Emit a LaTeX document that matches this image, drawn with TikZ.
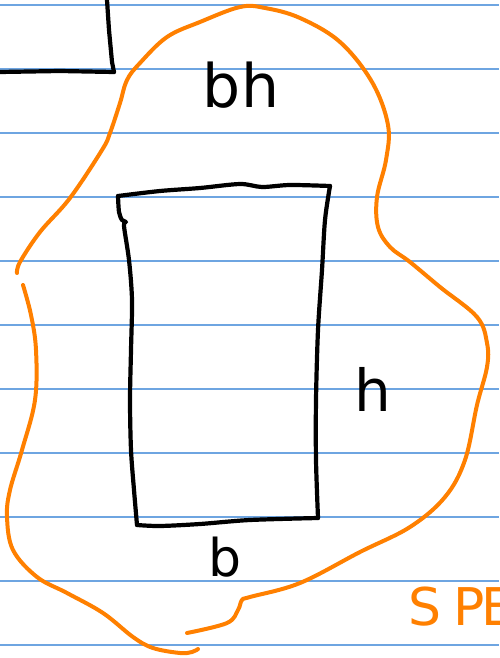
\documentclass[tikz,border=0pt]{standalone}
\usepackage{fontspec}
\setsansfont{DejaVu Sans}
\begin{document}
\begin{tikzpicture}[x=1pt,y=-1pt,
  ruled/.style={draw={rgb,255:red,110;green,165;blue,225},line width=1.1pt},
  ink/.style={draw=black,line width=4.2pt,line cap=round,line join=round},
  hl/.style={draw={rgb,255:red,255;green,128;blue,0},line width=4pt,line cap=round,line join=round},
  hand/.style={font=\sffamily, inner sep=0pt},
  ]
\useasboundingbox (0,0) rectangle (499,658);
\fill[white] (0,0) rectangle (499,658);
% ruled lines
\foreach \y in {5,69,133,197,261,325,389,453,517,581,645}
  \draw[ruled] (0,\y) -- (499,\y);
% top-left corner box
\draw[ink] (107,0) -- (109,30) -- (112,62) -- (114,72);
\draw[ink] (0,72) -- (60,71) -- (114,72);
% rectangle
\draw[ink] plot[smooth,tension=0.5] coordinates {(118,196) (160,191) (200,188) (240,184) (262,187) (290,185) (330,186)};
\draw[ink] plot[smooth,tension=0.5] coordinates {(330,186) (325,220) (322,270) (318,330) (316,400) (316,460) (318,518)};
\draw[ink] plot[smooth,tension=0.5] coordinates {(137,525) (160,526) (200,524) (250,520) (318,518)};
\draw[ink] plot[smooth,tension=0.5] coordinates {(118,196) (119,212) (122,220) (126,222) (124,226) (129,260) (132,300) (131,350) (130,400) (131,450) (134,490) (137,525)};
% labels
\node[hand,font=\sffamily\fontsize{60}{60}\selectfont] (bh) at (241,85) {bh};
\node[hand,font=\sffamily\fontsize{58}{58}\selectfont] (h) at (373,389) {h};
\node[hand,font=\sffamily\fontsize{52}{52}\selectfont] (b) at (225,557) {b};
\node[hand,font=\sffamily\fontsize{52}{52}\selectfont,text={rgb,255:red,255;green,128;blue,0},anchor=base west] (spe) at (408,625) {S\hspace{12pt}P\hspace{-3pt}E};
% orange blob
\draw[hl] plot[smooth,tension=0.6] coordinates {(17,273) (20,262) (40,232) (70,198) (102,150) (110,133) (120,103) (127,80) (140,63) (167,37) (200,22) (240,7) (265,8) (300,18) (340,42) (372,82) (388,125) (386,160) (377,197) (378,227) (390,247) (410,262) (440,287) (477,317) (487,343) (487,367) (477,405) (465,460) (445,497) (410,527) (360,552) (300,583) (250,597) (242,600) (238,610) (227,623) (187,633)};
\draw[hl] plot[smooth,tension=0.6] coordinates {(23,285) (31,315) (36,350) (35,400) (22,450) (10,490) (7,517) (13,550) (37,577) (67,593) (103,613) (133,637) (153,648) (180,653) (192,652) (198,649)};
\end{tikzpicture}
\end{document}
